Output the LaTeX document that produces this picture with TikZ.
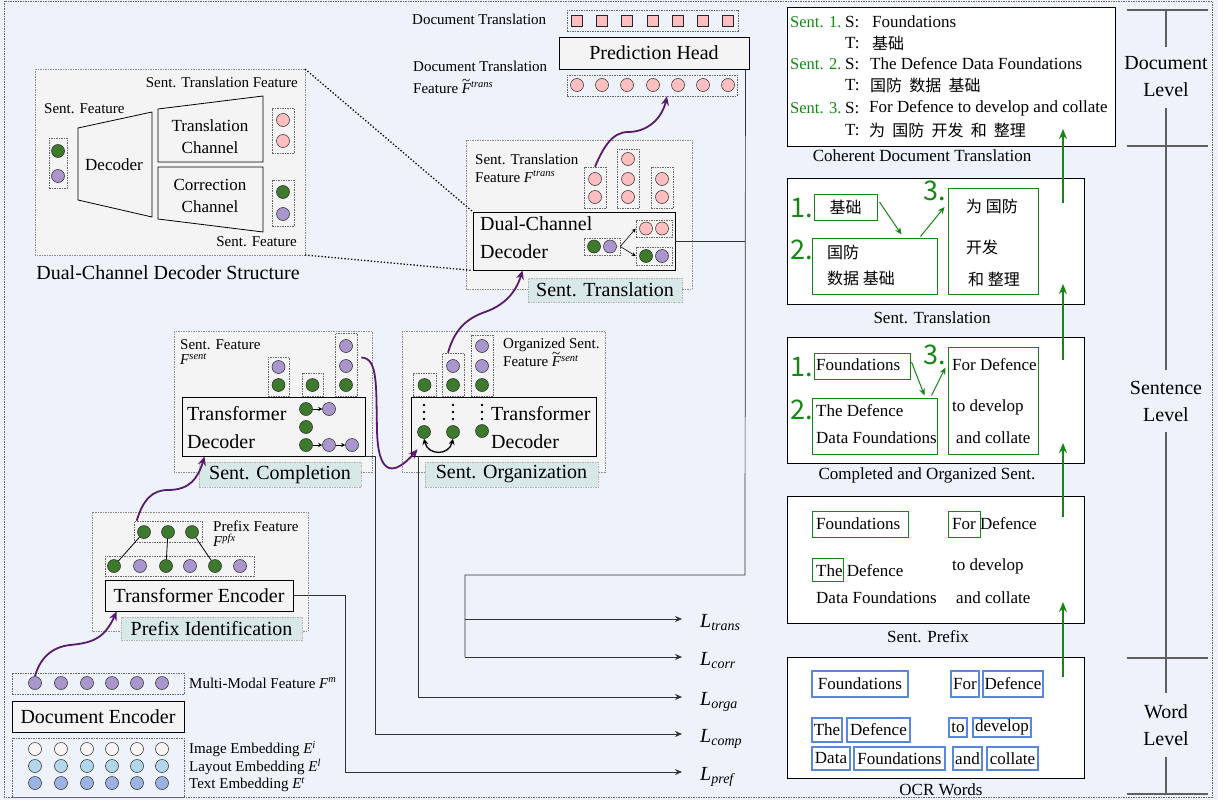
\documentclass[tikz,border=0pt]{standalone}
\usepackage{fontspec}
\setmainfont{Liberation Serif}
\newfontfamily\cjk{Noto Sans CJK SC}
\usepackage{xcolor}
\usetikzlibrary{arrows.meta, calc, positioning}

\definecolor{bgblue}{RGB}{238,242,250}
\definecolor{panelgray}{RGB}{244,244,244}
\definecolor{tagteal}{RGB}{216,232,232}
\definecolor{dotgreen}{RGB}{62,122,44}
\definecolor{dotpurple}{RGB}{168,150,204}
\definecolor{dotpink}{RGB}{255,190,192}
\definecolor{wavepurple}{RGB}{90,26,110}
\definecolor{sentgreen}{RGB}{20,135,20}
\definecolor{ocrblue}{RGB}{90,135,215}
\definecolor{embwhite}{RGB}{250,245,242}
\definecolor{emblight}{RGB}{178,214,236}
\definecolor{embblue}{RGB}{156,178,226}
\definecolor{levelgray}{RGB}{95,95,95}

\newcommand{\fsym}[2]{\textit{#1}\textsuperscript{\textit{#2}}}
\newcommand{\ftil}[1]{\textit{F}\llap{\raisebox{0.52em}{\char"7E}\hspace{0.06em}}\textsuperscript{\textit{#1}}}
\newcommand{\lsym}[1]{\textit{L}\textsubscript{\textit{#1}}}
\newcommand{\zsp}{\hspace{0.45em}}

\begin{document}
\begin{tikzpicture}[x=1pt, y=-1pt, >=Stealth,
    panel/.style={draw=black!45, dash pattern=on 1.5pt off 1pt, line width=0.6pt, fill=panelgray},
    grp/.style={draw=black!60, dash pattern=on 1.5pt off 1pt, line width=0.6pt, inner sep=0pt},
    blk/.style={draw=black, line width=0.9pt, fill=panelgray, inner sep=0pt},
    tag/.style={draw=black!30, dash pattern=on 1.5pt off 1pt, fill=tagteal, inner sep=0pt, font=\fontsize{20}{22}\selectfont},
    ball/.style={circle, draw=black!85, line width=0.5pt, minimum size=13pt, inner sep=0pt},
    gdot/.style={ball, fill=dotgreen},
    pdot/.style={ball, fill=dotpurple},
    kdot/.style={ball, fill=dotpink},
    ksq/.style={draw=black!85, line width=0.5pt, fill=dotpink, minimum size=11pt, inner sep=0pt},
    wave/.style={draw=wavepurple, line width=1.8pt, -{Stealth[length=9pt, width=8pt]}},
    loss/.style={draw=black!80, line width=0.7pt},
    lossarr/.style={loss, -{Stealth[length=7pt, width=6pt]}},
    tinyarr/.style={draw=black, line width=0.6pt, -{Stealth[length=4pt, width=4pt]}},
    lbl/.style={inner sep=0pt, font=\fontsize{15}{17}\selectfont},
    rtx/.style={inner sep=0pt, font=\fontsize{17}{19}\selectfont},
    sentno/.style={inner sep=0pt, text=sentgreen, font=\fontsize{16.5}{19}\selectfont},
    big/.style={inner sep=0pt, font=\fontsize{20}{28}\selectfont},
    chn/.style={inner sep=0pt, font=\fontsize{17}{22}\selectfont},
    lossl/.style={inner sep=0pt, font=\fontsize{20}{22}\selectfont},
    zh/.style={inner sep=0pt, font=\cjk\fontsize{16}{18}\selectfont},
    numtx/.style={inner sep=0pt, text=sentgreen, font=\cjk\fontsize{27}{28}\selectfont},
    wbox/.style={draw=black, line width=0.9pt, fill=white, inner sep=0pt},
    gbox/.style={draw=sentgreen, line width=1pt, inner sep=0pt},
    obox/.style={draw=ocrblue, line width=1.3pt, inner sep=0pt, font=\fontsize{17}{19}\selectfont},
    garr/.style={draw=sentgreen, line width=1pt, -{Stealth[length=7pt, width=6pt]}},
    uparr/.style={draw=sentgreen, line width=1.6pt, -{Stealth[length=10pt, width=8pt]}},
    lvl/.style={draw=levelgray, line width=1.6pt},
  ]
  \useasboundingbox (0,0) rectangle (1218,800);

  % =================================================================
  % 0. BACKGROUND
  % =================================================================
  \fill[bgblue] (0,0) rectangle (1218,800);
  \draw[grp] (4,1) rectangle (1212,797);

  % =================================================================
  % 1. DUAL-CHANNEL DECODER STRUCTURE (top left)
  % =================================================================
  \draw[panel] (35,69) rectangle (305,255);
  \coordinate (structNE) at (305,69);
  \coordinate (structSE) at (305,255);

  \node[lbl, anchor=east] (stTransLbl) at (298,82) {Sent. Translation Feature};
  \node[lbl, anchor=west] (stFeatLbl) at (44,109) {Sent. Feature};
  \node[grp, minimum width=18pt, minimum height=50pt] (stIn) at (58,163) {};
  \node[gdot] (stInG) at (58,151) {};
  \node[pdot] (stInP) at (58,176) {};

  % decoder and the two channels
  \draw[line width=0.8pt] (78,128) -- (152,112) -- (152,217) -- (78,200) -- cycle;
  \node[chn] (stDecLbl) at (114,165) {Decoder};
  \draw[line width=0.8pt] (158,109) -- (263,96) -- (263,162) -- (158,162) -- cycle;
  \node[chn, align=center] (stTransCh) at (210,137) {Translation\\Channel};
  \draw[line width=0.8pt] (158,167) -- (263,167) -- (263,232) -- (158,219) -- cycle;
  \node[chn, align=center] (stCorrCh) at (210,196) {Correction\\Channel};

  \node[grp, minimum width=22pt, minimum height=45pt] (stOutT) at (283,130.5) {};
  \node[kdot] (stOutT1) at (283,120) {};
  \node[kdot] (stOutT2) at (283,141) {};
  \node[grp, minimum width=22pt, minimum height=46pt] (stOutC) at (283,203) {};
  \node[gdot] (stOutC1) at (283,192) {};
  \node[pdot] (stOutC2) at (283,214) {};
  \node[lbl, anchor=east] (stFeatLbl2) at (297,242) {Sent. Feature};
  \node[big] (structTitle) at (168,273) {Dual-Channel Decoder Structure};

  % =================================================================
  % 2. DOCUMENT TRANSLATION AND PREDICTION HEAD (top middle)
  % =================================================================
  \node[lbl, anchor=west] (docTransLbl) at (412,19) {Document Translation};
  \node[grp, minimum width=171pt, minimum height=21pt] (docTransBox) at (652.5,20.5) {};
  \foreach \x [count=\i] in {577,602,627,653,678,703,728}
    \node[ksq] (dt\i) at (\x,21) {};

  \node[blk, minimum width=190pt, minimum height=32pt, font=\fontsize{20}{24}\selectfont] (predHead) at (654,53) {Prediction Head};

  \node[lbl, anchor=west, align=left, font=\fontsize{15}{22}\selectfont] (docFeatLbl) at (413,77) {Document Translation\\Feature \ftil{trans}};
  \node[grp, minimum width=170pt, minimum height=21pt] (dftBox) at (652,85.5) {};
  \foreach \x [count=\i] in {577,602,627,653,678,703,728}
    \node[kdot] (dft\i) at (\x,85) {};

  % =================================================================
  % 3. SENT. TRANSLATION
  % =================================================================
  \draw[panel] (466,140) rectangle (692,289);
  \node[lbl, anchor=west, align=left, font=\fontsize{15}{18}\selectfont] (stfLbl) at (475,168) {Sent. Translation\\Feature \fsym{F}{trans}};
  \node[grp, minimum width=22pt, minimum height=41pt] (tC1) at (595,187.5) {};
  \node[grp, minimum width=22pt, minimum height=59pt] (tC2) at (628,178.5) {};
  \node[grp, minimum width=22pt, minimum height=41pt] (tC3) at (662,187.5) {};
  \foreach \x/\y [count=\i] in {595/179,595/197,628/159,628/179,628/197,662/179,662/197}
    \node[kdot] (tk\i) at (\x,\y) {};

  \node[blk, minimum width=202pt, minimum height=58pt] (dualDec) at (574,241) {};
  \node[big, anchor=west, align=left] (dualDecLbl) at (480,238) {Dual-Channel\\Decoder};
  \node[grp, minimum width=36pt, minimum height=17pt] (dualIn) at (602,246.5) {};
  \node[gdot] (dualInG) at (594,246.5) {};
  \node[pdot] (dualInP) at (610,246.5) {};
  \node[grp, minimum width=36pt, minimum height=17pt] (dualOutT) at (654,228.5) {};
  \node[kdot] (dualOutT1) at (646,228.5) {};
  \node[kdot] (dualOutT2) at (662,228.5) {};
  \node[grp, minimum width=36pt, minimum height=18pt] (dualOutC) at (654,256) {};
  \node[gdot] (dualOutC1) at (646,256) {};
  \node[pdot] (dualOutC2) at (662,256) {};
  \draw[tinyarr] (dualIn.east) -- (dualOutT.west);
  \draw[tinyarr] (dualIn.east) -- (dualOutC.west);
  \node[tag, minimum width=154pt, minimum height=24pt] (tagTrans) at (605,290) {Sent. Translation};

  % dotted zoom lines to the structure panel
  \draw[dotted, line width=1.3pt] (structNE) -- (dualDec.north west);
  \draw[dotted, line width=1.3pt] (structSE) -- (dualDec.south west);

  % =================================================================
  % 4. SENT. COMPLETION
  % =================================================================
  \draw[panel] (174,331) rectangle (372,472);
  \node[lbl, anchor=west, align=left, font=\fontsize{15}{15}\selectfont] (sfLbl) at (180,352) {Sent. Feature\\\fsym{F}{sent}};
  \node[grp, minimum width=21pt, minimum height=39pt] (cC1) at (278.5,376.5) {};
  \node[grp, minimum width=21pt, minimum height=23pt] (cC2) at (312.5,384.5) {};
  \node[grp, minimum width=22pt, minimum height=63pt] (cC3) at (346,364.5) {};
  \node[pdot] (cC1a) at (278.5,367) {};
  \node[gdot] (cC1b) at (278.5,385) {};
  \node[gdot] (cC2a) at (312.5,385) {};
  \node[pdot] (cC3a) at (346,346) {};
  \node[pdot] (cC3b) at (346,366) {};
  \node[gdot] (cC3c) at (346,385) {};

  \node[blk, minimum width=183pt, minimum height=59pt] (compDec) at (273.5,426.5) {};
  \node[big, anchor=west, align=left] (compDecLbl) at (187,428) {Transformer\\Decoder};
  \node[gdot] (cr1a) at (306,409) {};
  \node[pdot] (cr1b) at (329,409) {};
  \node[gdot] (cr2a) at (306,427) {};
  \node[gdot] (cr3a) at (306,445) {};
  \node[pdot] (cr3b) at (329,445) {};
  \node[pdot] (cr3c) at (352,445) {};
  \draw[tinyarr] (cr1a) -- (cr1b);
  \draw[tinyarr] (cr3a) -- (cr3b);
  \draw[tinyarr] (cr3b) -- (cr3c);
  \node[tag, minimum width=162pt, minimum height=25pt] (tagComp) at (280,474.5) {Sent. Completion};

  % =================================================================
  % 5. SENT. ORGANIZATION
  % =================================================================
  \draw[panel] (402,331) rectangle (605,472);
  \node[lbl, anchor=west, align=left, font=\fontsize{15}{17}\selectfont] (ofLbl) at (503,352) {Organized Sent.\\Feature \ftil{sent}};
  \node[grp, minimum width=23pt, minimum height=23pt] (oC1) at (424.5,384.5) {};
  \node[grp, minimum width=22pt, minimum height=43pt] (oC2) at (453,374.5) {};
  \node[grp, minimum width=22pt, minimum height=61pt] (oC3) at (482,365.5) {};
  \node[gdot] (oC1a) at (424.5,385) {};
  \node[pdot] (oC2a) at (453,366) {};
  \node[gdot] (oC2b) at (453,385) {};
  \node[pdot] (oC3a) at (482,346) {};
  \node[pdot] (oC3b) at (482,366) {};
  \node[gdot] (oC3c) at (482,385) {};

  \node[blk, minimum width=185pt, minimum height=59pt] (orgDec) at (503.5,426.5) {};
  \node[big, anchor=west, align=left] (orgDecLbl) at (491,428) {Transformer\\Decoder};
  % vertical dots above the reordered sentences
  \foreach \x in {424,453,482}
    \foreach \y in {405,412,419}
      \fill (\x,\y) circle (1.3pt);
  \node[gdot] (og1) at (424,432) {};
  \node[gdot] (og2) at (453,432) {};
  \node[gdot] (og3) at (482,431) {};
  \draw[line width=1.3pt, {Stealth[length=6pt, width=6pt]}-{Stealth[length=6pt, width=6pt]}]
    (og1.south) .. controls +(4,17) and +(-4,17) .. (og2.south);
  \node[tag, minimum width=173pt, minimum height=25pt] (tagOrg) at (511.5,474.5) {Sent. Organization};

  % =================================================================
  % 6. PREFIX IDENTIFICATION
  % =================================================================
  \draw[panel] (92,512) rectangle (308,631);
  \node[grp, minimum width=68pt, minimum height=21pt] (pfxFeat) at (168,531.5) {};
  \foreach \x [count=\i] in {144,168,192}
    \node[gdot] (pf\i) at (\x,532) {};
  \node[lbl, anchor=west, align=left, font=\fontsize{15}{15}\selectfont] (pfLbl) at (213,534) {Prefix Feature\\\fsym{F}{pfx}};
  \node[grp, minimum width=149pt, minimum height=20pt] (prRow) at (179.5,566) {};
  \foreach \x/\s [count=\i] in {114/gdot,140/pdot,166/gdot,190/pdot,215/gdot,240/pdot}
    \node[\s] (pr\i) at (\x,566) {};
  \draw[line width=0.8pt] (pf1) -- (pr1);
  \draw[line width=0.8pt] (pf2) -- (pr3);
  \draw[line width=0.8pt] (pf3) -- (pr5);
  \node[blk, minimum width=188pt, minimum height=31pt, font=\fontsize{20}{24}\selectfont] (prefEnc) at (199,595.5) {Transformer Encoder};
  \node[tag, minimum width=181pt, minimum height=23pt] (tagPref) at (211.5,628.5) {Prefix Identification};

  % =================================================================
  % 7. DOCUMENT ENCODER AND EMBEDDINGS (bottom left)
  % =================================================================
  \node[grp, minimum width=172pt, minimum height=21pt] (mmRow) at (98,683.5) {};
  \foreach \x [count=\i] in {35,61,87,112,137,162}
    \node[pdot] (mm\i) at (\x,683) {};
  \node[lbl, anchor=west] (mmLbl) at (189,683) {Multi-Modal Feature \fsym{F}{m}};
  \node[blk, minimum width=172pt, minimum height=31pt, font=\fontsize{20}{24}\selectfont] (docEnc) at (98,716.5) {Document Encoder};
  \node[grp, minimum width=172pt, minimum height=59pt] (embBox) at (98,767.5) {};
  \foreach \x [count=\i] in {35,61,87,112,137,162} {
    \node[ball, fill=embwhite] (ei\i) at (\x,749) {};
    \node[ball, fill=emblight] (el\i) at (\x,766) {};
    \node[ball, fill=embblue] (et\i) at (\x,783) {};
  }
  \node[lbl, anchor=west] (eiLbl) at (189,749) {Image Embedding \fsym{E}{i}};
  \node[lbl, anchor=west] (elLbl) at (189,767) {Layout Embedding \fsym{E}{l}};
  \node[lbl, anchor=west] (etLbl) at (189,785) {Text Embedding \fsym{E}{t}};

  % =================================================================
  % 8. PURPLE FLOW ARROWS
  % =================================================================
  \draw[wave] (mm1.north) .. controls (40,658) and (52,647) .. (70,645)
    .. controls (90,643) and (104,640) .. ($(prefEnc.south west)+(12,0)$);
  \draw[wave] ($(pfxFeat.north west)+(3,0)$) .. controls (143,500) and (152,490) .. (168,490)
    .. controls (190,490) and (198,478) .. ($(compDec.south west)+(23,0)$);
  \draw[wave] ($(cC3.east)+(4,-7)$) .. controls (378,358) and (376,385) .. (377,430)
    .. controls (378,478) and (395,475) .. ($(orgDec.south west)+(7,-7)$);
  \draw[wave] ($(oC2.north)+(-5,0)$) .. controls (455,328) and (468,318) .. (485,312)
    .. controls (505,305) and (516,292) .. ($(dualDec.south west)+(50,0)$);
  \draw[wave] (tC1.north) .. controls (603,148) and (612,132) .. (628,132)
    .. controls (648,132) and (662,118) .. ($(dftBox.south)+(15,0)$);

  % =================================================================
  % 9. LOSS BRANCHES
  % =================================================================
  \node[lossl, anchor=base west] (lossTrans) at (700,627) {\lsym{trans}};
  \node[lossl, anchor=base west] (lossCorr) at (700,665) {\lsym{corr}};
  \node[lossl, anchor=base west] (lossOrga) at (700,705) {\lsym{orga}};
  \node[lossl, anchor=base west] (lossComp) at (700,742) {\lsym{comp}};
  \node[lossl, anchor=base west] (lossPref) at (700,780) {\lsym{pref}};
  \coordinate (ltEnd) at (682,619);
  \coordinate (lcEnd) at (682,657);
  \coordinate (loEnd) at (682,697);
  \coordinate (lcpEnd) at (682,734);
  \coordinate (lpEnd) at (682,772);

  \coordinate (tjA) at ($(predHead.south east)+(-4,0)$);
  \coordinate (tjB) at (745,241);
  \coordinate (tjC) at (745,575);
  \coordinate (tjD) at (465,575);
  \coordinate (tjF) at (465,619);
  \coordinate (tjE) at (465,657);
  \draw[loss] (tjA) -- (tjC) -- (tjD) -- (tjE);
  \draw[loss] (dualDec.east) -- (tjB);
  \draw[lossarr] (tjF) -- (ltEnd);
  \draw[lossarr] (tjE) -- (lcEnd);
  \draw[lossarr] ([xshift=8pt]orgDec.south west) |- (loEnd);
  \draw[lossarr] (compDec.south east) -- ++(10,0) |- (lcpEnd);
  \draw[lossarr] (prefEnc.east) -- ++(52,0) |- (lpEnd);

  % =================================================================
  % 10. RIGHT COLUMN: DOCUMENT LEVEL
  % =================================================================
  \node[wbox, minimum width=328pt, minimum height=139pt] (docBox) at (951,76.5) {};
  \node[sentno, anchor=west] (s1No) at (790,22) {Sent. 1.};
  \node[rtx, anchor=west] (s1S) at (845,22) {S:};
  \node[rtx, anchor=west] (s1Src) at (872,22) {Foundations};
  \node[rtx, anchor=west] (s1T) at (845,43) {T:};
  \node[zh, anchor=west] (s1Tgt) at (872,43) {基础};
  \node[sentno, anchor=west] (s2No) at (790,64) {Sent. 2.};
  \node[rtx, anchor=west] (s2S) at (845,64) {S:};
  \node[rtx, anchor=west] (s2Src) at (870,64) {The Defence Data Foundations};
  \node[rtx, anchor=west] (s2T) at (845,85) {T:};
  \node[zh, anchor=west] (s2Tgt) at (870,85) {国防\zsp 数据\zsp 基础};
  \node[sentno, anchor=west] (s3No) at (790,108) {Sent. 3.};
  \node[rtx, anchor=west] (s3S) at (845,108) {S:};
  \node[rtx, anchor=west] (s3Src) at (869,108) {For Defence to develop and collate};
  \node[rtx, anchor=west] (s3T) at (845,130) {T:};
  \node[zh, anchor=west] (s3Tgt) at (869,130) {为\zsp 国防\zsp 开发\zsp 和\zsp 整理};
  \node[rtx] (docCap) at (922,156) {Coherent Document Translation};

  % =================================================================
  % 11. RIGHT COLUMN: SENT. TRANSLATION
  % =================================================================
  \node[wbox, minimum width=297pt, minimum height=126pt] (stBox) at (935.5,241) {};
  \node[numtx, anchor=west] (st1No) at (790,208) {1.};
  \node[gbox, zh, minimum width=63pt, minimum height=26pt] (stB1) at (845.5,207) {基础};
  \node[numtx, anchor=west] (st2No) at (790,250) {2.};
  \node[gbox, minimum width=125pt, minimum height=56pt] (stB2) at (874.5,266) {};
  \node[zh, anchor=west] (stB2a) at (827,252) {国防};
  \node[zh, anchor=west] (stB2b) at (827,278) {数据 基础};
  \node[numtx, anchor=west] (st3No) at (923,191) {3.};
  \node[gbox, minimum width=90pt, minimum height=106pt] (stB3) at (993,241) {};
  \node[zh, anchor=west] (stB3a) at (966,206) {为 国防};
  \node[zh, anchor=west] (stB3b) at (966,247) {开发};
  \node[zh, anchor=west] (stB3c) at (968,279) {和 整理};
  \draw[garr] ($(stB1.east)+(2,-5)$) -- ($(stB2.north)+(27,-3)$);
  \draw[garr] ($(stB2.north)+(46,-1)$) -- ($(stB3.west)+(-3,-34)$);
  \node[rtx] (stCap) at (932,318) {Sent. Translation};

  % =================================================================
  % 12. RIGHT COLUMN: COMPLETED AND ORGANIZED SENT.
  % =================================================================
  \node[wbox, minimum width=297pt, minimum height=126pt] (coBox) at (935.5,400) {};
  \node[numtx, anchor=west] (co1No) at (790,367) {1.};
  \node[gbox, minimum width=96pt, minimum height=26pt] (coB1) at (862,366) {};
  \node[rtx, anchor=west] (coB1a) at (816,365) {Foundations};
  \node[numtx, anchor=west] (co2No) at (790,410) {2.};
  \node[gbox, minimum width=125pt, minimum height=56pt] (coB2) at (874.5,426) {};
  \node[rtx, anchor=west] (coB2a) at (816,411) {The Defence};
  \node[rtx, anchor=west] (coB2b) at (816,438) {Data Foundations};
  \node[numtx, anchor=west] (co3No) at (923,355) {3.};
  \node[gbox, minimum width=90pt, minimum height=107pt] (coB3) at (993,400.5) {};
  \node[rtx, anchor=west] (coB3a) at (952,365) {For Defence};
  \node[rtx, anchor=west] (coB3b) at (952,407) {to develop};
  \node[rtx, anchor=west] (coB3c) at (956,438) {and collate};
  \draw[garr] ($(coB1.east)+(1,-4)$) -- ($(coB2.north)+(50,-2)$);
  \draw[garr] ($(coB2.north)+(57,-2)$) -- ($(coB3.west)+(-2,-33)$);
  \node[rtx] (coCap) at (927,475) {Completed and Organized Sent.};

  % =================================================================
  % 13. RIGHT COLUMN: SENT. PREFIX
  % =================================================================
  \node[wbox, minimum width=297pt, minimum height=127pt] (pxBox) at (935.5,559.5) {};
  \node[gbox, minimum width=96pt, minimum height=26pt] (pxB1) at (860,524) {};
  \node[gbox, minimum width=32pt, minimum height=26pt] (pxB2) at (964,524) {};
  \node[gbox, minimum width=31pt, minimum height=23pt] (pxB3) at (827.5,569.5) {};
  \node[rtx, anchor=west] (pxT1) at (816,524) {Foundations};
  \node[rtx, anchor=west] (pxT2) at (952,524) {For Defence};
  \node[rtx, anchor=west] (pxT3) at (816,571) {The Defence};
  \node[rtx, anchor=west] (pxT4) at (816,598) {Data Foundations};
  \node[rtx, anchor=west] (pxT5) at (952,566) {to develop};
  \node[rtx, anchor=west] (pxT6) at (956,598) {and collate};
  \node[rtx] (pxCap) at (928,637) {Sent. Prefix};

  % =================================================================
  % 14. RIGHT COLUMN: OCR WORDS
  % =================================================================
  \node[wbox, minimum width=297pt, minimum height=121pt] (ocrBox) at (935.5,717.5) {};
  \node[obox, minimum width=96pt, minimum height=26pt] (w1) at (860,684) {Foundations};
  \node[obox, minimum width=28pt, minimum height=26pt] (w2) at (965,684) {For};
  \node[obox, minimum width=60pt, minimum height=26pt] (w3) at (1013,684) {Defence};
  \node[obox, minimum width=30pt, minimum height=24pt] (w4) at (827,730) {The};
  \node[obox, minimum width=63pt, minimum height=24pt] (w5) at (878.5,730) {Defence};
  \node[obox, minimum width=18pt, minimum height=19pt] (w6) at (958,727.5) {to};
  \node[obox, minimum width=58pt, minimum height=19pt] (w7) at (1002,727.5) {develop};
  \node[obox, minimum width=38pt, minimum height=23pt] (w8) at (831,758.5) {Data};
  \node[obox, minimum width=91pt, minimum height=23pt] (w9) at (899.5,758.5) {Foundations};
  \node[obox, minimum width=29pt, minimum height=23pt] (w10) at (967.5,758.5) {and};
  \node[obox, minimum width=51pt, minimum height=23pt] (w11) at (1012.5,758.5) {collate};
  \node[rtx] (ocrCap) at (941,790) {OCR Words};

  % green upward arrows between levels
  \foreach \a/\b [count=\i] in {677/602, 517/443, 360/284, 203/129} {
    \coordinate (up\i s) at (1063,\a);
    \coordinate (up\i e) at (1063,\b);
    \draw[uparr] (up\i s) -- (up\i e);
  }

  % =================================================================
  % 15. LEVEL SCALE
  % =================================================================
  \foreach \y in {10,146,658,794}
    \draw[lvl] (1127,\y) -- (1208,\y);
  \draw[lvl] (1166,10) -- (1166,47);
  \draw[lvl] (1166,108) -- (1166,370);
  \draw[lvl] (1166,432) -- (1166,693);
  \draw[lvl] (1166,757) -- (1166,794);
  \node[big, align=center, font=\fontsize{20}{27}\selectfont] (lvDoc) at (1166,77) {Document\\Level};
  \node[big, align=center, font=\fontsize{20}{27}\selectfont] (lvSent) at (1166,401) {Sentence\\Level};
  \node[big, align=center, font=\fontsize{20}{27}\selectfont] (lvWord) at (1166,725) {Word\\Level};

\end{tikzpicture}
\end{document}
